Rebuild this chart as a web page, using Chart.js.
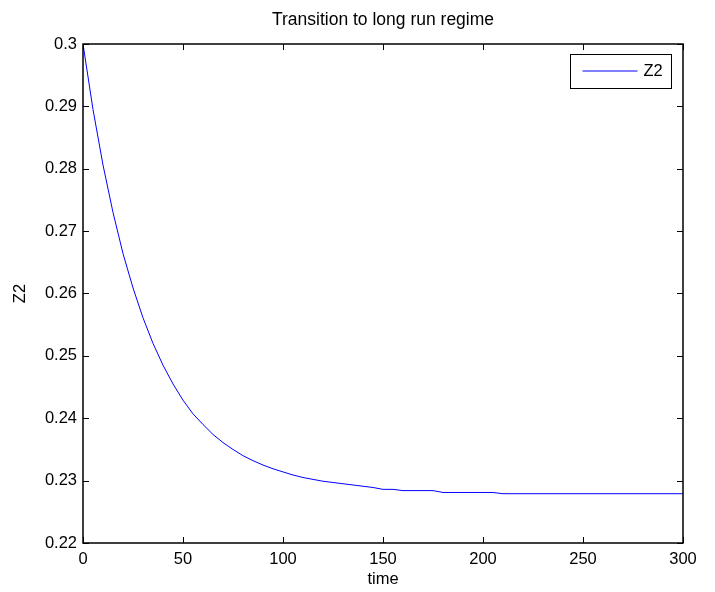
<!DOCTYPE html>
<html lang="en">

<head>
  <meta charset="UTF-8">
  <script src="https://cdn.jsdelivr.net/npm/chart.js"></script>
  <title>Transition to long run regime</title>
  <style>
    html, body { margin: 0; padding: 0; background: #fff; }
    #box { width: 715px; height: 592px; }
  </style>
</head>

<body>
  <div id="box">
    <canvas id="grafico"></canvas>
  </div>
</body>

</html>
<script>
  // simulated path of Z2, sampled every 5 time units
  var tempo = [0, 5, 10, 15, 20, 25, 30, 35, 40, 45, 50, 55, 60, 65, 70, 75, 80, 85, 90, 95,
    100, 105, 110, 115, 120, 125, 130, 135, 140, 145, 150, 155, 160, 165, 170, 175, 180, 185, 190, 195,
    200, 205, 210, 215, 220, 225, 230, 235, 240, 245, 250, 255, 260, 265, 270, 275, 280, 285, 290, 295, 300]
  var z2 = [0.3000, 0.2895, 0.2806, 0.2730, 0.2664, 0.2609, 0.2561, 0.2520, 0.2485, 0.2455,
    0.2429, 0.2407, 0.2390, 0.2374, 0.2361, 0.2350, 0.2340, 0.2332, 0.2325, 0.2319,
    0.2314, 0.2309, 0.2305, 0.2302, 0.2299, 0.2297, 0.2295, 0.2293, 0.2291, 0.2289,
    0.2286, 0.2286, 0.2284, 0.2284, 0.2284, 0.2284, 0.2281, 0.2281, 0.2281, 0.2281,
    0.2281, 0.2281, 0.2279, 0.2279, 0.2279, 0.2279, 0.2279, 0.2279, 0.2279, 0.2279,
    0.2279, 0.2279, 0.2279, 0.2279, 0.2279, 0.2279, 0.2279, 0.2279, 0.2279, 0.2279, 0.2279]
  var ticksX = [0, 50, 100, 150, 200, 250, 300]
  var ticksY = [0.22, 0.23, 0.24, 0.25, 0.26, 0.27, 0.28, 0.29, 0.3]
  var titulo = "Transition to long run regime"

  var fonte = "'Liberation Sans', Arial, Helvetica, sans-serif"

  // title over the plot, axes box with inward ticks on all four sides, small legend box
  const moldura = {
    id: "moldura",
    afterDraw(chart) {
      const ctx = chart.ctx
      const a = chart.chartArea
      const sx = chart.scales.x
      const sy = chart.scales.y
      const tam = 6
      ctx.save()

      ctx.fillStyle = "#000"
      ctx.font = "17.5px " + fonte
      ctx.textAlign = "center"
      ctx.textBaseline = "middle"
      ctx.fillText(titulo, (a.left + a.right) / 2, 20)

      ctx.strokeStyle = "#000"
      ctx.lineWidth = 1
      ctx.beginPath()
      ticksX.forEach(v => {
        const px = Math.round(sx.getPixelForValue(v)) + 0.5
        ctx.moveTo(px, a.bottom); ctx.lineTo(px, a.bottom - tam)
        ctx.moveTo(px, a.top); ctx.lineTo(px, a.top + tam)
      })
      ticksY.forEach(v => {
        const py = Math.round(sy.getPixelForValue(v)) + 0.5
        ctx.moveTo(a.left, py); ctx.lineTo(a.left + tam, py)
        ctx.moveTo(a.right, py); ctx.lineTo(a.right - tam, py)
      })
      ctx.stroke()
      ctx.lineWidth = 1.5
      ctx.strokeRect(a.left, a.top, a.right - a.left, a.bottom - a.top)

      // legend
      const ds = chart.data.datasets[0]
      const lx = a.right - 112.5, ly = a.top + 10.5, lw = 101, lh = 34
      ctx.fillStyle = "#fff"
      ctx.fillRect(lx, ly, lw, lh)
      ctx.lineWidth = 1
      ctx.strokeRect(lx, ly, lw, lh)
      ctx.strokeStyle = ds.borderColor
      ctx.beginPath()
      ctx.moveTo(lx + 12, ly + 16.5)
      ctx.lineTo(lx + 67, ly + 16.5)
      ctx.stroke()
      ctx.fillStyle = "#000"
      ctx.font = "16.5px " + fonte
      ctx.textAlign = "left"
      ctx.fillText(ds.label, lx + 73, ly + 17)
      ctx.restore()
    }
  }

  function carregarGrafico() {
    const ctx = document.getElementById("grafico")
    new Chart(ctx, {
      type: "line",
      data: {
        datasets: [{
          label: "Z2",
          data: tempo.map((t, i) => ({ x: t, y: z2[i] })),
          borderColor: "#0000ff",
          borderWidth: 1,
          pointRadius: 0,
          tension: 0,
          fill: false,
        }],
      },
      options: {
        responsive: true,
        maintainAspectRatio: false,
        animation: false,
        layout: { padding: { left: 0, right: 32, top: 44, bottom: 0 } },
        plugins: {
          legend: { display: false },
          tooltip: { enabled: false },
          title: { display: false },
        },
        scales: {
          x: {
            type: "linear",
            min: 0,
            max: 300,
            afterBuildTicks: (s) => { s.ticks = ticksX.map(v => ({ value: v })) },
            afterFit: (s) => { s.height = 49 },
            grid: { display: false, drawTicks: false },
            border: { display: false },
            ticks: {
              color: "#000",
              padding: 7,
              maxRotation: 0,
              font: { family: fonte, size: 16.5 },
            },
            title: {
              display: true,
              text: "time",
              color: "#000",
              font: { family: fonte, size: 16.5 },
              padding: { top: 0, bottom: 3 },
            },
          },
          y: {
            min: 0.22,
            max: 0.3,
            afterBuildTicks: (s) => { s.ticks = ticksY.map(v => ({ value: v })) },
            afterFit: (s) => { s.width = 83 },
            grid: { display: false, drawTicks: false },
            border: { display: false },
            ticks: {
              color: "#000",
              padding: 6,
              font: { family: fonte, size: 16.5 },
              callback: (v) => String(Number(v.toFixed(2))),
            },
            title: {
              display: true,
              text: "Z2",
              color: "#000",
              font: { family: fonte, size: 16.5 },
              padding: { top: 11, bottom: 0 },
            },
          },
        },
      },
      plugins: [moldura],
    })
  }

  carregarGrafico()
</script>
